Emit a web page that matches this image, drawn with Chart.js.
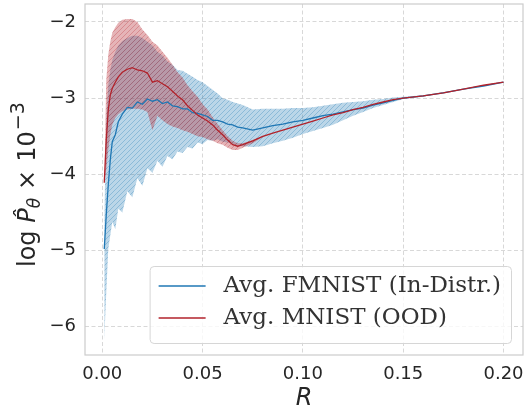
<!DOCTYPE html>
<html>
<head>
<meta charset="utf-8">
<script src="https://cdn.jsdelivr.net/npm/chart.js@4.4.1/dist/chart.umd.min.js"></script>
<style>
  body { margin: 0; background: #fff; }
  canvas { display: block; }
</style>
</head>
<body>
<canvas id="grafico" width="524" height="406"></canvas>
<script>
// radius values (x axis)
const rValues = [0.001, 0.002, 0.003, 0.004, 0.005, 0.0065, 0.008,
  0.01, 0.0125, 0.015, 0.0175, 0.02, 0.0225, 0.025, 0.0275, 0.03, 0.0325, 0.035, 0.0375, 0.04,
  0.0425, 0.045, 0.0475, 0.05, 0.0525, 0.055, 0.0575, 0.06, 0.0625, 0.065, 0.0675, 0.07,
  0.075, 0.08, 0.085, 0.09, 0.095, 0.1, 0.105, 0.11, 0.115, 0.12, 0.125, 0.13, 0.135, 0.14, 0.145, 0.15,
  0.16, 0.17, 0.18, 0.19, 0.2];

// FMNIST (in-distribution): mean and band
const fmnistMean = [-4.98, -4.53, -4.14, -3.81, -3.57, -3.48, -3.31,
  -3.21, -3.12, -3.13, -3.05, -3.08, -3.01, -3.04, -3.02, -3.07, -3.05, -3.10, -3.11, -3.14,
  -3.14, -3.19, -3.20, -3.22, -3.24, -3.29, -3.29, -3.31, -3.34, -3.35, -3.38, -3.39,
  -3.42, -3.39, -3.36, -3.34, -3.31, -3.29, -3.26, -3.23, -3.21, -3.18, -3.15, -3.13, -3.09, -3.06, -3.03, -3.00,
  -2.97, -2.93, -2.88, -2.84, -2.79];
const fmnistUpper = [-4.60, -3.29, -2.83, -2.63, -2.50, -2.39, -2.31,
  -2.25, -2.21, -2.18, -2.18, -2.21, -2.26, -2.31, -2.39, -2.44, -2.52, -2.56, -2.63, -2.64,
  -2.68, -2.72, -2.76, -2.79, -2.84, -2.89, -2.94, -3.00, -3.02, -3.05, -3.07, -3.09,
  -3.15, -3.14, -3.14, -3.14, -3.13, -3.13, -3.12, -3.10, -3.08, -3.06, -3.05, -3.04, -3.02, -3.01, -2.99, -2.98,
  -2.96, -2.92, -2.88, -2.84, -2.79];
const fmnistLower = [-6.17, -5.55, -4.98, -4.80, -4.62, -4.72, -4.45,
  -4.50, -4.22, -4.30, -4.05, -4.15, -3.92, -3.98, -3.82, -3.90, -3.76, -3.80, -3.70, -3.72,
  -3.64, -3.66, -3.58, -3.60, -3.55, -3.56, -3.54, -3.57, -3.58, -3.60, -3.62, -3.63,
  -3.64, -3.63, -3.59, -3.56, -3.52, -3.47, -3.43, -3.39, -3.35, -3.29, -3.23, -3.18, -3.13, -3.09, -3.05, -3.01,
  -2.98, -2.93, -2.88, -2.84, -2.79];

// MNIST (OOD): mean and band (band only where it is visible)
const mnistMean = [-4.11, -3.55, -3.15, -2.96, -2.87, -2.79, -2.72,
  -2.66, -2.62, -2.60, -2.63, -2.64, -2.67, -2.79, -2.77, -2.81, -2.85, -2.91, -2.97, -3.02,
  -3.10, -3.16, -3.22, -3.26, -3.30, -3.35, -3.42, -3.48, -3.55, -3.61, -3.63, -3.61,
  -3.56, -3.50, -3.46, -3.42, -3.38, -3.34, -3.30, -3.26, -3.22, -3.19, -3.15, -3.12, -3.08, -3.05, -3.02, -3.00,
  -2.97, -2.93, -2.88, -2.83, -2.79];
const mnistUpper = [-4.11, -2.76, -2.43, -2.26, -2.14, -2.07, -2.01,
  -1.97, -1.96, -1.96, -2.00, -2.10, -2.17, -2.26, -2.31, -2.39, -2.47, -2.56, -2.66, -2.73,
  -2.83, -2.91, -2.98, -3.08, -3.15, -3.25, -3.34, -3.42, -3.50, -3.56, -3.59, -3.59,
  -3.55, -3.50, -3.46];
const mnistLower = [-4.11, -3.94, -3.68, -3.48, -3.35, -3.26, -3.21,
  -3.17, -3.15, -3.14, -3.14, -3.15, -3.18, -3.42, -3.23, -3.29, -3.34, -3.37, -3.39, -3.42,
  -3.44, -3.47, -3.50, -3.51, -3.54, -3.56, -3.59, -3.61, -3.65, -3.68, -3.68, -3.65,
  -3.59, -3.51, -3.46];

const xTicks = [0, 0.05, 0.1, 0.15, 0.2];
const yTicks = [-6, -5, -4, -3, -2];

const legendLabels = ['Avg. FMNIST (In-Distr.)', 'Avg. MNIST (OOD)'];
const blue = '#1f77b4';
const red = '#b2222b';
const textColor = '#262626';

function toPoints(ys) {
    return ys.map((y, i) => ({ x: rValues[i], y: y }));
}

// diagonal hatch pattern for the bands
function hatch(fill, stroke) {
    const c = document.createElement('canvas');
    c.width = 5; c.height = 5;
    const g = c.getContext('2d');
    g.fillStyle = fill;
    g.fillRect(0, 0, 5, 5);
    g.strokeStyle = stroke;
    g.lineWidth = 1;
    g.beginPath();
    g.moveTo(0, 5); g.lineTo(5, 0);
    g.moveTo(-1, 1); g.lineTo(1, -1);
    g.moveTo(4, 6); g.lineTo(6, 4);
    g.stroke();
    return g.createPattern(c, 'repeat');
}

function minus(v) {
    return (v < 0 ? '\u2212' : '') + Math.abs(v);
}

// frame, axis titles and legend drawn by hand
const extras = {
    id: 'extras',
    beforeDatasetsDraw(chart) {
        const { ctx, chartArea: a } = chart;
        ctx.save();
        ctx.strokeStyle = '#cccccc';
        ctx.lineWidth = 1.2;
        ctx.strokeRect(a.left, a.top, a.right - a.left, a.bottom - a.top);
        ctx.restore();
    },
    afterDraw(chart) {
        const { ctx, chartArea: a } = chart;
        ctx.save();
        ctx.fillStyle = textColor;

        // x title
        ctx.font = 'italic 24px "DejaVu Sans"';
        ctx.textAlign = 'center';
        ctx.textBaseline = 'alphabetic';
        ctx.fillText('R', (a.left + a.right) / 2, 405);

        // y title: log P̂_θ × 10^-3
        ctx.translate(35, 267);
        ctx.rotate(-Math.PI / 2);
        ctx.textAlign = 'left';
        let x = 0;
        const piece = (txt, font, dy) => {
            ctx.font = font;
            ctx.fillText(txt, x, dy);
            x += ctx.measureText(txt).width;
        };
        piece('log ', '24px "DejaVu Sans"', 0);
        piece('P\u0302', 'italic 24px "DejaVu Sans"', 0);
        piece('\u03b8', 'italic 17px "DejaVu Sans"', 5);
        x += 8;
        piece('\u00d7', '24px "DejaVu Sans"', 0);
        x += 8;
        piece('10', '24px "DejaVu Sans"', 0);
        x += 1;
        piece('\u22123', '19px "DejaVu Sans"', -11);
        ctx.restore();

        // legend
        ctx.save();
        ctx.font = '23px "DejaVu Serif"';
        const tw = Math.max(...legendLabels.map(t => ctx.measureText(t).width));
        const w = 9 + 47 + 18 + tw + 10;
        const h = 77;
        const bx = a.right - 12 - w;
        const by = a.bottom - 12 - h;
        ctx.beginPath();
        ctx.roundRect(bx + 0.5, by + 0.5, w, h, 4);
        ctx.fillStyle = 'rgba(255,255,255,0.8)';
        ctx.fill();
        ctx.strokeStyle = '#d6d6d6';
        ctx.lineWidth = 1;
        ctx.stroke();
        const colors = [blue, red];
        legendLabels.forEach((t, i) => {
            const ly = by + 20 + i * 32;
            ctx.strokeStyle = colors[i];
            ctx.lineWidth = 1.5;
            ctx.beginPath();
            ctx.moveTo(bx + 9, ly);
            ctx.lineTo(bx + 56, ly);
            ctx.stroke();
            ctx.fillStyle = '#333';
            ctx.textAlign = 'left';
            ctx.textBaseline = 'middle';
            ctx.fillText(t, bx + 74, ly);
        });
        ctx.restore();
    }
};

const band = {
    borderWidth: 0,
    pointRadius: 0,
    tension: 0
};

const ctx = document.getElementById('grafico');
new Chart(ctx, {
    type: 'line',
    data: {
        datasets: [
            { ...band, data: toPoints(fmnistUpper), fill: '+1', backgroundColor: hatch('rgba(31,119,180,0.3)', 'rgba(31,119,180,0.3)'), order: 5 },
            { ...band, data: toPoints(fmnistLower), fill: false, order: 5 },
            { ...band, data: toPoints(mnistUpper), fill: '+1', backgroundColor: hatch('rgba(178,34,43,0.34)', 'rgba(178,34,43,0.28)'), order: 4 },
            { ...band, data: toPoints(mnistLower), fill: false, order: 4 },
            { label: legendLabels[0], data: toPoints(fmnistMean), borderColor: blue, borderWidth: 1.3, pointRadius: 0, fill: false, order: 2 },
            { label: legendLabels[1], data: toPoints(mnistMean), borderColor: red, borderWidth: 1.3, pointRadius: 0, fill: false, order: 1 }
        ]
    },
    options: {
        responsive: false,
        animation: false,
        layout: { padding: { top: 4, right: 1, left: 0, bottom: 0 } },
        plugins: {
            legend: { display: false },
            tooltip: { enabled: false }
        },
        scales: {
            x: {
                type: 'linear',
                min: -0.0086,
                max: 0.2097,
                afterBuildTicks: s => { s.ticks = xTicks.map(v => ({ value: v })); },
                afterFit: s => { s.height = 51; s.paddingLeft = 0; s.paddingRight = 0; },
                grid: { color: '#d4d4d4', lineWidth: 0.9, drawTicks: false },
                border: { display: false, dash: [4, 2.5] },
                ticks: {
                    padding: 9,
                    color: textColor,
                    font: { family: 'DejaVu Sans', size: 18 },
                    maxRotation: 0,
                    callback: v => v.toFixed(2)
                }
            },
            y: {
                min: -6.37,
                max: -1.764,
                afterBuildTicks: s => { s.ticks = yTicks.map(v => ({ value: v })); },
                afterFit: s => { s.width = 85; s.paddingTop = 0; s.paddingBottom = 0; },
                grid: { color: '#d4d4d4', lineWidth: 0.9, drawTicks: false },
                border: { display: false, dash: [4, 2.5] },
                ticks: {
                    padding: 9,
                    color: textColor,
                    font: { family: 'DejaVu Sans', size: 18 },
                    callback: v => minus(v)
                }
            }
        }
    },
    plugins: [extras]
});
</script>
</body>
</html>
